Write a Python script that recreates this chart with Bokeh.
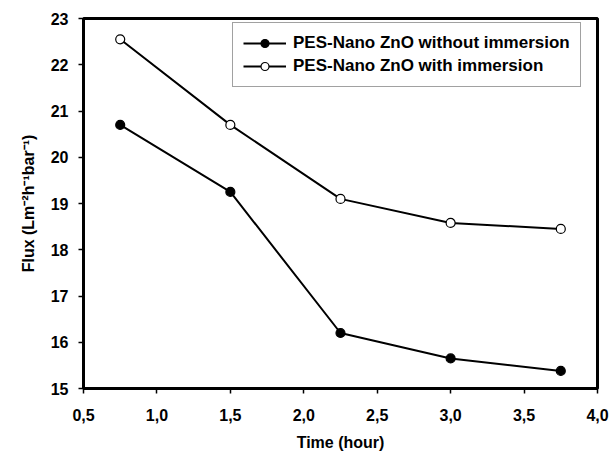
from bokeh.plotting import figure
from bokeh.models import Legend, LegendItem, Range1d, FixedTicker
from bokeh.embed import file_html
from bokeh.resources import INLINE

time_h = [0.75, 1.5, 2.25, 3.0, 3.75]
flux_without = [20.70, 19.25, 16.20, 15.65, 15.38]
flux_with = [22.55, 20.70, 19.10, 18.58, 18.45]
series_names = ["PES-Nano ZnO without immersion", "PES-Nano ZnO with immersion"]
x_ticks = [0.5, 1.0, 1.5, 2.0, 2.5, 3.0, 3.5, 4.0]
x_tick_labels = ["0,5", "1,0", "1,5", "2,0", "2,5", "3,0", "3,5", "4,0"]
y_ticks = [15, 16, 17, 18, 19, 20, 21, 22, 23]

FONT = "Liberation Sans"

p = figure(width=612, height=454, output_backend="svg", toolbar_location=None,
           x_range=Range1d(0.5, 4.0), y_range=Range1d(15, 23),
           min_border_left=83, min_border_right=15, min_border_top=18, min_border_bottom=66)
p.grid.visible = False
p.outline_line_color = "black"
p.outline_line_width = 3
p.background_fill_color = "white"
p.border_fill_color = "white"

for ax in (p.xaxis[0], p.yaxis[0]):
    ax.axis_line_width = 3
    ax.axis_line_color = "black"
    ax.major_tick_line_width = 1.5
    ax.major_tick_line_color = "black"
    ax.major_tick_out = 5
    ax.major_tick_in = 0
    ax.minor_tick_line_color = None
    ax.major_label_text_font = FONT
    ax.major_label_text_font_style = "bold"
    ax.major_label_text_font_size = "16px"
    ax.major_label_text_color = "black"
    ax.axis_label_text_font = FONT
    ax.axis_label_text_font_style = "bold"
    ax.axis_label_text_font_size = "16px"
    ax.axis_label_text_color = "black"

p.xaxis.ticker = FixedTicker(ticks=x_ticks)
p.xaxis.major_label_overrides = {t: l for t, l in zip(x_ticks, x_tick_labels)}
p.yaxis.ticker = FixedTicker(ticks=y_ticks)
p.xaxis.major_label_standoff = 15
p.yaxis.major_label_standoff = 10
p.xaxis.axis_label = "Time (hour)"
p.yaxis.axis_label = "Flux (Lm\u207b\u00b2h\u207b\u00b9bar\u207b\u00b9)"
p.xaxis.axis_label_standoff = 10
p.yaxis.axis_label_standoff = 11

l1 = p.line(time_h, flux_without, line_color="black", line_width=2)
s1 = p.scatter(time_h, flux_without, size=9, fill_color="black", line_color="black", line_width=1.2)
l2 = p.line(time_h, flux_with, line_color="black", line_width=2)
s2 = p.scatter(time_h, flux_with, size=9, fill_color="white", line_color="black", line_width=1.2)

legend = Legend(items=[LegendItem(label=series_names[0], renderers=[l1, s1]),
                       LegendItem(label=series_names[1], renderers=[l2, s2])],
                location=(149, 301))
legend.label_text_font = FONT
legend.label_text_font_style = "bold"
legend.label_text_font_size = "17px"
legend.label_text_color = "black"
legend.glyph_width = 43
legend.glyph_height = 20
legend.label_height = 20
legend.label_standoff = 7
legend.spacing = 3
legend.padding = 10
legend.margin = 0
legend.border_line_color = "#444444"
legend.border_line_width = 1.5
legend.background_fill_alpha = 1
p.add_layout(legend, "center")

open("out.html", "w").write(file_html(p, INLINE))
